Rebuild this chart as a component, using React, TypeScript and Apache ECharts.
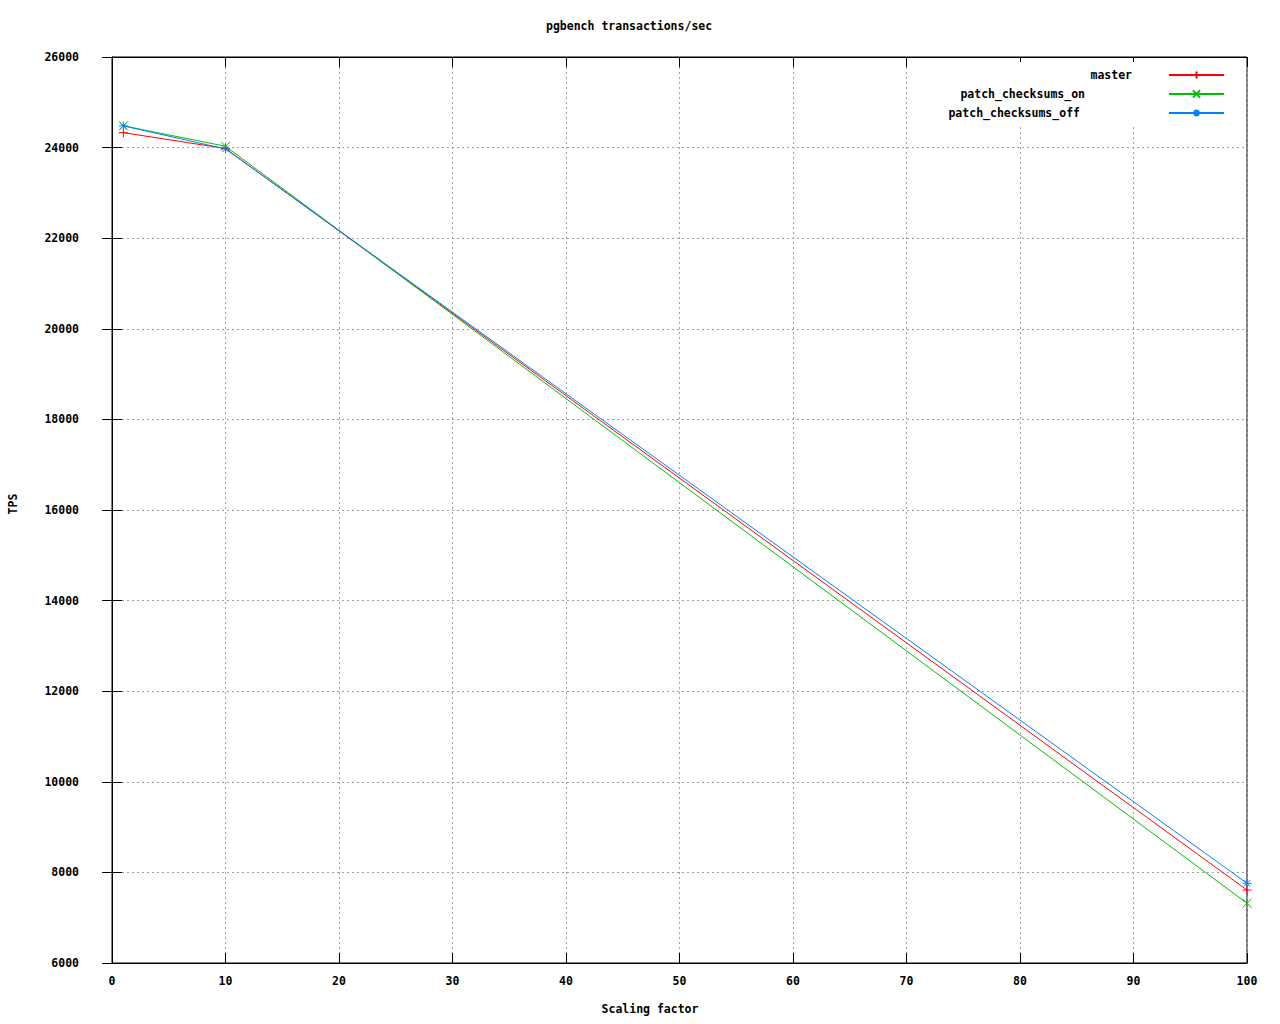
import React, { useEffect, useRef } from "react";
import * as echarts from "echarts";

const scalingFactors = [1, 10, 100];
const masterTps = [24330, 23980, 7610];
const checksumsOnTps = [24480, 24030, 7320];
const checksumsOffTps = [24480, 23970, 7760];
const seriesNames = ["master", "patch_checksums_on", "patch_checksums_off"];
const seriesColors = ["#ff0000", "#00c000", "#0080ff"];

const FONT = "DejaVu Sans Mono";
const textBase = { fontFamily: FONT, fontWeight: "bold" as const, fontSize: 11.5, color: "#000" };

const symPlus = "path://M0,5L10,5M5,0L5,10";
const symCross = "path://M0,0L10,10M10,0L0,10";
const symStar = "path://M0,5L10,5M5,0L5,10M1.5,1.5L8.5,8.5M8.5,1.5L1.5,8.5";

export default function App() {
  const ref = useRef<HTMLDivElement>(null);
  useEffect(() => {
    if (!ref.current) return;
    const chart = echarts.init(ref.current, null, { renderer: "svg" });
    const dataSets = [masterTps, checksumsOnTps, checksumsOffTps];
    const symbols = [symPlus, symCross, symStar];
    const series = dataSets.map((vals, i) => ({
      name: seriesNames[i],
      type: "line",
      xAxisIndex: 0,
      yAxisIndex: 0,
      data: scalingFactors.map((x, j) => [x, vals[j]]),
      symbol: symbols[i],
      symbolSize: 9,
      showSymbol: true,
      lineStyle: { color: seriesColors[i], width: 1 },
      itemStyle: { color: seriesColors[i], borderColor: seriesColors[i], borderWidth: 1 },
      emphasis: { disabled: true },
      z: 3,
    }));
    const pads = [32, 79, 84];
    const splitLine = { show: true, lineStyle: { color: "#a0a0a0", type: [2, 3] as any, width: 1 } };
    const axisLine = { show: true, lineStyle: { color: "#000", width: 1 } };
    const axisTick = { show: true, inside: true, length: 10, lineStyle: { color: "#000", width: 1 } };
    chart.setOption({
      animation: false,
      backgroundColor: "#fff",
      title: {
        text: "pgbench transactions/sec",
        left: 546,
        top: 20,
        padding: 0,
        textStyle: { ...textBase },
      },
      legend: {
        orient: "vertical",
        align: "right",
        right: 40,
        top: 62,
        padding: [7, 15, 8, 20],
        backgroundColor: "#fff",
        itemWidth: 55,
        itemHeight: 9,
        itemGap: 7,
        selectedMode: false,
        textStyle: { ...textBase },
        data: seriesNames.map((n, i) => ({
          name: n,
          textStyle: { ...textBase, width: 220 - pads[i], align: "right", padding: [0, pads[i], 0, 0] },
        })),
      },
      grid: {
        left: 112,
        right: 33,
        top: 57,
        bottom: 61,
        containLabel: false,
        outerBoundsMode: "none",
        show: true,
        borderColor: "#000",
        borderWidth: 1,
        backgroundColor: "#fff",
      },
      xAxis: [
        {
          type: "value",
          min: 0,
          max: 100,
          interval: 10,
          position: "bottom",
          name: "Scaling factor",
          nameLocation: "middle",
          nameGap: 40,
          nameTextStyle: { ...textBase, padding: [0, 59, 0, 0] },
          axisLine,
          axisTick,
          axisLabel: { ...textBase, margin: 12 },
          splitLine,
        },
        {
          type: "value",
          min: 0,
          max: 100,
          interval: 10,
          position: "top",
          axisLine,
          axisTick,
          axisLabel: { show: false },
          splitLine: { show: false },
        },
      ],
      yAxis: [
        {
          type: "value",
          min: 6000,
          max: 26000,
          interval: 2000,
          position: "left",
          name: "TPS",
          nameLocation: "middle",
          nameRotate: 90,
          nameGap: 93,
          nameTextStyle: { ...textBase, padding: [0, 0, 0, 12] },
          axisLine,
          axisTick,
          axisLabel: { ...textBase, margin: 33, formatter: (v: number) => String(v) },
          splitLine,
        },
        {
          type: "value",
          min: 6000,
          max: 26000,
          interval: 2000,
          position: "right",
          axisLine,
          axisTick,
          axisLabel: { show: false },
          splitLine: { show: false },
        },
      ],
      series,
    } as any);
    return () => chart.dispose();
  }, []);
  return (
    <div
      ref={ref}
      style={{ position: "absolute", left: 0, top: 0, width: 1280, height: 1024, background: "#fff" }}
    />
  );
}
